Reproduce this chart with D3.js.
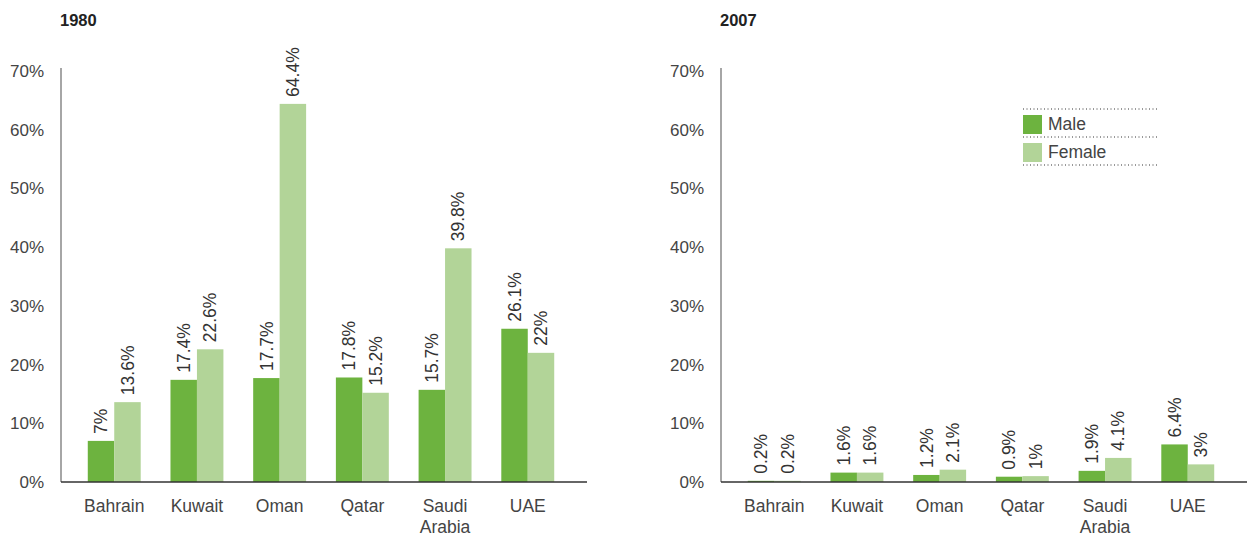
<!DOCTYPE html>
<html>
<head>
<meta charset="utf-8">
<script src="https://cdn.jsdelivr.net/npm/d3@7"></script>
<style>
  body { margin: 0; background: #fff; }
  text { font-family: "Liberation Sans", Arial, sans-serif; }
</style>
</head>
<body>
<svg></svg>
<script>
const WIDTH = 1251;
const HEIGHT = 537;

const countries = ["Bahrain", "Kuwait", "Oman", "Qatar", "Saudi Arabia", "UAE"];
const series = ["Male", "Female"];
const male1980 = [7, 17.4, 17.7, 17.8, 15.7, 26.1];
const female1980 = [13.6, 22.6, 64.4, 15.2, 39.8, 22];
const male2007 = [0.2, 1.6, 1.2, 0.9, 1.9, 6.4];
const female2007 = [0.2, 1.6, 2.1, 1, 4.1, 3];
const yTicks = [0, 10, 20, 30, 40, 50, 60, 70];

const colors = { Male: "#6db33f", Female: "#b2d498" };

const panels = [
  { title: "1980", x0: 61, male: male1980, female: female1980, legend: false },
  { title: "2007", x0: 721, male: male2007, female: female2007, legend: true }
];

const yTop = 68;
const yBase = 482;
const axisW = 526;

var svg = d3.select("svg").attr("width", WIDTH).attr("height", HEIGHT);

var y = d3.scaleLinear().domain([0, 70]).range([yBase, 482 - 411]);

panels.forEach(function (p) {
  var g = svg.append("g");

  g.append("text")
    .attr("x", p.x0 - 1)
    .attr("y", 26)
    .attr("font-size", 16.5)
    .attr("font-weight", "bold")
    .attr("fill", "#222")
    .text(p.title);

  // y axis
  g.append("line")
    .attr("x1", p.x0).attr("x2", p.x0)
    .attr("y1", yTop).attr("y2", yBase)
    .attr("stroke", "#888").attr("stroke-width", 1.5);

  g.selectAll("text.tick")
    .data(yTicks)
    .enter()
    .append("text")
    .attr("class", "tick")
    .attr("x", p.x0 - 17)
    .attr("y", (d) => y(d))
    .attr("dy", "0.35em")
    .attr("text-anchor", "end")
    .attr("font-size", 17)
    .attr("fill", "#444")
    .text((d) => d + "%");

  var x = d3.scaleBand()
    .domain(countries)
    .range([p.x0 - 3, p.x0 - 3 + axisW])
    .paddingInner(0.36)
    .paddingOuter(0.36);

  var x1 = d3.scaleBand().domain(series).range([0, x.bandwidth()]);

  var rows = countries.map((c, i) => ({ country: c, Male: p.male[i], Female: p.female[i] }));

  var groups = g.selectAll("g.group")
    .data(rows)
    .enter()
    .append("g")
    .attr("class", "group")
    .attr("transform", (d) => "translate(" + x(d.country) + ",0)");

  groups.selectAll("rect")
    .data((d) => series.map((s) => ({ key: s, value: d[s] })))
    .enter()
    .append("rect")
    .attr("x", (d) => x1(d.key))
    .attr("y", (d) => y(d.value))
    .attr("width", x1.bandwidth())
    .attr("height", (d) => yBase - y(d.value))
    .attr("fill", (d) => colors[d.key]);

  groups.selectAll("text.val")
    .data((d) => series.map((s) => ({ key: s, value: d[s] })))
    .enter()
    .append("text")
    .attr("class", "val")
    .attr("transform", (d) =>
      "translate(" + (x1(d.key) + x1.bandwidth() / 2) + "," + (y(d.value) - 7) + ") rotate(-90)")
    .attr("dy", "0.35em")
    .attr("font-size", 17.5)
    .attr("fill", "#333")
    .text((d) => d.value + "%");

  // baseline
  g.append("line")
    .attr("x1", p.x0).attr("x2", p.x0 + axisW)
    .attr("y1", yBase).attr("y2", yBase)
    .attr("stroke", "#333").attr("stroke-width", 1.5);

  // category labels
  groups.each(function (d) {
    var t = d3.select(this).append("text")
      .attr("x", x.bandwidth() / 2)
      .attr("y", 512)
      .attr("text-anchor", "middle")
      .attr("font-size", 17.5)
      .attr("fill", "#444");
    d.country.split(" ").forEach(function (w, i) {
      t.append("tspan")
        .attr("x", x.bandwidth() / 2)
        .attr("dy", i === 0 ? 0 : 21)
        .text(w);
    });
  });

  if (p.legend) {
    var lg = g.append("g").attr("transform", "translate(1023,109)");
    [0, 28, 56].forEach(function (yy) {
      lg.append("line")
        .attr("x1", 0).attr("x2", 134)
        .attr("y1", yy).attr("y2", yy)
        .attr("stroke", "#333")
        .attr("stroke-dasharray", "1,2.5");
    });
    series.forEach(function (s, i) {
      lg.append("rect")
        .attr("x", 0).attr("y", 6 + i * 28)
        .attr("width", 19).attr("height", 19)
        .attr("fill", colors[s]);
      lg.append("text")
        .attr("x", 25).attr("y", 15 + i * 28)
        .attr("dy", "0.35em")
        .attr("font-size", 17.5)
        .attr("fill", "#444")
        .text(s);
    });
  }
});
</script>
</body>
</html>
